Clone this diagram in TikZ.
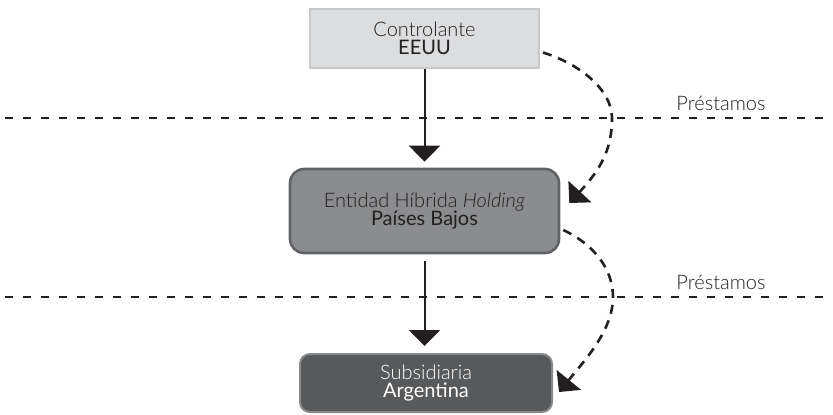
\documentclass[tikz,border=0pt]{standalone}
\usepackage{fontspec}
\setmainfont{Lato}
\newfontfamily\latolight{Lato Light}
\usetikzlibrary{arrows.meta}

\definecolor{ink}{HTML}{231F20}
\definecolor{boxlight}{HTML}{DCDDDE}
\definecolor{boxlightline}{HTML}{C8C9CB}
\definecolor{boxmid}{HTML}{8B8C8E}
\definecolor{boxmidline}{HTML}{616265}
\definecolor{boxdark}{HTML}{58595B}
\definecolor{boxdarkline}{HTML}{88898B}

\begin{document}
\begin{tikzpicture}[x=0.5pt,y=-0.5pt,
  entity/.style={inner sep=0pt, align=center, text=ink,
    font=\fontsize{10}{9.3}\selectfont},
  loanlabel/.style={inner sep=0pt, text=ink, font=\latolight\fontsize{10}{12}\selectfont},
  divider/.style={ink, line width=0.65pt, dash pattern=on 4pt off 5pt},
  flow/.style={-{Triangle[length=8pt,width=15.5pt]}, ink, line width=1pt},
  loan/.style={-{Triangle[length=7.8pt,width=15.5pt]}, ink, line width=1.3pt,
    dash pattern=on 4.5pt off 3.5pt}]
\useasboundingbox (0,0) rectangle (833,414);

% dashed dividers
\draw [divider] (5,118) -- (833,118);
\draw [divider] (5,297) -- (833,297);

% entities
\node [entity, fill=boxlight, draw=boxlightline, line width=1pt,
  minimum width=114.5pt, minimum height=29.5pt] (ctrl) at (424.5,38.5)
  {{\latolight Controlante}\\EEUU};
\node [entity, fill=boxmid, draw=boxmidline, line width=1.3pt, rounded corners=7pt,
  minimum width=134.5pt, minimum height=42pt] (hold) at (424.5,211)
  {{\latolight Entidad Híbrida \textit{Holding}}\\Países Bajos};
\node [entity, fill=boxdark, draw=boxdarkline, line width=1pt, rounded corners=5pt,
  text=white, minimum width=126pt, minimum height=29pt] (subs) at (426,383)
  {{\latolight Subsidiaria}\\Argentina};

\node [loanlabel] (loanA) at (721,103) {Préstamos};
\node [loanlabel] (loanB) at (721,282) {Préstamos};

% ownership
\draw [flow, shorten >=3pt] (ctrl.south -| hold.north) -- (hold.north);
\draw [flow, shorten <=3.5pt, shorten >=3.5pt] (hold.south) -- (hold.south |- subs.north);

% loans
\coordinate (startA) at ([shift={(3,14)}]ctrl.east);
\coordinate (endA) at ([shift={(9,-8)}]hold.east);
\coordinate (startB) at ([shift={(3,19)}]hold.east);
\coordinate (endB) at ([shift={(6,9)}]subs.east);

\draw [loan] (startA) .. controls (580,64) and (612,90) .. (612,118)
  .. controls (612,150) and (600,170) .. (endA);
\draw [loan] (startB) .. controls (595,245) and (613,270) .. (613,297)
  .. controls (613,330) and (585,360) .. (endB);

\end{tikzpicture}
\end{document}
